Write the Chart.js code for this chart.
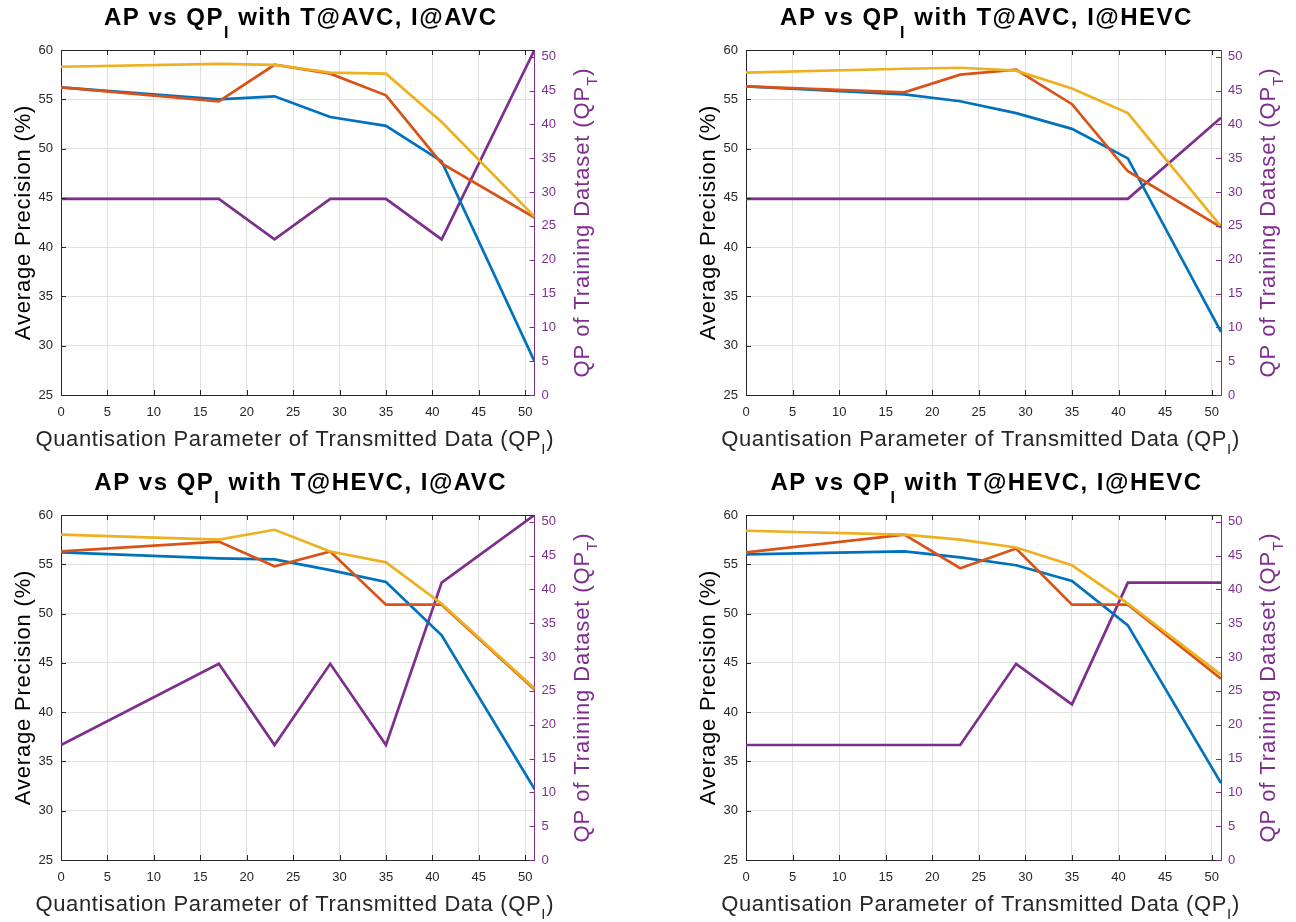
<!DOCTYPE html>
<html>
<head>
<meta charset="utf-8">
<script src="https://cdn.jsdelivr.net/npm/chart.js@4"></script>
<style>
  html, body { margin: 0; padding: 0; background: #fff; }
  body { width: 1296px; height: 922px; position: relative; overflow: hidden; }
  .cell { position: absolute; width: 648px; height: 461px; }
  canvas { display: block; }
</style>
</head>
<body>
<div class="cell" style="left:0;top:0"><canvas id="c0" width="648" height="461"></canvas></div>
<div class="cell" style="left:648px;top:0"><canvas id="c1" width="648" height="461"></canvas></div>
<div class="cell" style="left:0;top:461px"><canvas id="c2" width="648" height="461"></canvas></div>
<div class="cell" style="left:648px;top:461px"><canvas id="c3" width="648" height="461"></canvas></div>
<script>
// QP of transmitted data (x)
const qpI = [0, 17, 23, 29, 35, 41, 51];
const panelTitles = ['T@AVC, I@AVC', 'T@AVC, I@HEVC', 'T@HEVC, I@AVC', 'T@HEVC, I@HEVC'];

// tick labels
const xTicks = [0, 5, 10, 15, 20, 25, 30, 35, 40, 45, 50];
const qpTTicks = [0, 5, 10, 15, 20, 25, 30, 35, 40, 45, 50];

// average precision (%), one row per panel
const apBlue = [
    [56.2, 55.0, 55.3, 53.2, 52.3, 48.7, 28.4],
    [56.3, 55.5, 54.8, 53.6, 52.0, 49.0, 31.4],
    [56.2, 55.6, 55.5, 54.4, 53.2, 47.8, 32.2],
    [56.0, 56.3, 55.7, 54.9, 53.3, 48.8, 32.8]
];
const apOrange = [
    [56.2, 54.8, 58.5, 57.6, 55.4, 48.5, 43.0],
    [56.3, 55.7, 57.5, 58.0, 54.5, 47.7, 42.0],
    [56.3, 57.3, 54.8, 56.3, 50.9, 50.9, 42.3],
    [56.2, 58.0, 54.6, 56.6, 50.9, 50.9, 43.4]
];
const apYellow = [
    [58.3, 58.6, 58.5, 57.7, 57.6, 52.7, 43.1],
    [57.7, 58.1, 58.2, 57.9, 56.1, 53.6, 42.1],
    [58.0, 57.5, 58.5, 56.3, 55.2, 51.0, 42.4],
    [58.4, 58.0, 57.5, 56.7, 54.9, 51.0, 43.8]
];
// QP of training dataset (right axis)
const qpT = [
    [29, 29, 23, 29, 29, 23, 51],
    [29, 29, 29, 29, 29, 29, 41],
    [17, 29, 17, 29, 17, 41, 51],
    [17, 17, 17, 29, 23, 41, 41]
];

const BLUE = '#0072BD', ORANGE = '#D95319', YELLOW = '#EDB120', PURPLE = '#7E2F8E';
const FONT = '"Liberation Sans", Arial, sans-serif';
const GRID = '#e0e0e0';

// wanted chart area inside each 648x461 canvas
const areas = [
    {left: 61, right: 534.5, top: 50, bottom: 395},
    {left: 98, right: 573, top: 50, bottom: 395},
    {left: 61, right: 534.5, top: 54, bottom: 399},
    {left: 98, right: 573, top: 54, bottom: 399}
];
const W = 648, H = 461, YW = 40, XH = 30;

function pts(vals) {
    return qpI.map((x, i) => ({x: x, y: vals[i]}));
}

// text with subscript pieces, centred on x
function richText(ctx, parts, x, y, size, subSize, subDrop, weight, spacing) {
    ctx.letterSpacing = spacing + 'px';
    let w = 0;
    parts.forEach(p => {
        ctx.font = weight + ' ' + (p.sub ? subSize : size) + 'px ' + FONT;
        p.w = ctx.measureText(p.t).width;
        w += p.w;
    });
    let cx = x - w / 2;
    ctx.textAlign = 'left';
    ctx.textBaseline = 'alphabetic';
    parts.forEach(p => {
        ctx.font = weight + ' ' + (p.sub ? subSize : size) + 'px ' + FONT;
        ctx.fillText(p.t, cx, y + (p.sub ? subDrop : 0));
        cx += p.w;
    });
    ctx.letterSpacing = '0px';
}

const decor = {
    id: 'decor',
    afterDraw(chart, args, opts) {
        const ctx = chart.ctx, ca = chart.chartArea;
        const sx = chart.scales.x, sy = chart.scales.y, sr = chart.scales.yR;
        ctx.save();
        // top edge of box
        ctx.strokeStyle = '#262626';
        ctx.lineWidth = 1;
        ctx.beginPath();
        ctx.moveTo(ca.left, ca.top + 0.5);
        ctx.lineTo(ca.right, ca.top + 0.5);
        ctx.stroke();
        // inner tick marks
        ctx.beginPath();
        sx.ticks.forEach(t => {
            const px = Math.round(sx.getPixelForValue(t.value)) + 0.5;
            ctx.moveTo(px, ca.bottom); ctx.lineTo(px, ca.bottom - 5);
            ctx.moveTo(px, ca.top); ctx.lineTo(px, ca.top + 5);
        });
        sy.ticks.forEach(t => {
            const py = Math.round(sy.getPixelForValue(t.value)) + 0.5;
            ctx.moveTo(ca.left, py); ctx.lineTo(ca.left + 5, py);
        });
        ctx.stroke();
        ctx.strokeStyle = PURPLE;
        ctx.beginPath();
        sr.ticks.forEach(t => {
            const py = Math.round(sr.getPixelForValue(t.value)) + 0.5;
            ctx.moveTo(ca.right, py); ctx.lineTo(ca.right - 5, py);
        });
        ctx.stroke();

        const mid = (ca.left + ca.right) / 2, vmid = (ca.top + ca.bottom) / 2;
        // title
        ctx.fillStyle = '#000';
        richText(ctx, [{t: 'AP vs QP'}, {t: 'I', sub: true}, {t: ' with ' + opts.title}],
            mid + 3, ca.top - 25, 24, 16, 13, 'bold', 1.5);
        // x title
        ctx.fillStyle = '#262626';
        richText(ctx, [{t: 'Quantisation Parameter of Transmitted Data (QP'}, {t: 'I', sub: true}, {t: ')'}],
            mid - 3, ca.bottom + 51, 22, 15, 8, 'normal', 0.65);
        // left y title
        ctx.save();
        ctx.translate(ca.left - 31, vmid);
        ctx.rotate(-Math.PI / 2);
        ctx.fillStyle = '#000';
        richText(ctx, [{t: 'Average Precision (%)'}], 0, 0, 22, 15, 8, 'normal', 0.8);
        ctx.restore();
        // right y title
        ctx.save();
        ctx.translate(ca.right + 54, vmid);
        ctx.rotate(-Math.PI / 2);
        ctx.fillStyle = PURPLE;
        richText(ctx, [{t: 'QP of Training Dataset (QP'}, {t: 'T', sub: true}, {t: ')'}],
            0, 0, 22, 15, 8, 'normal', 0.9);
        ctx.restore();
        ctx.restore();
    }
};

function line(data, color, axis, order) {
    return {
        data: data, yAxisID: axis, borderColor: color, backgroundColor: color,
        borderWidth: 2.7, pointRadius: 0, tension: 0, fill: false, order: order
    };
}

panelTitles.forEach((title, i) => {
    const a = areas[i];
    new Chart(document.getElementById('c' + i), {
        type: 'line',
        data: {
            datasets: [
                line(pts(qpT[i]), PURPLE, 'yR', 4),
                line(pts(apBlue[i]), BLUE, 'y', 3),
                line(pts(apOrange[i]), ORANGE, 'y', 2),
                line(pts(apYellow[i]), YELLOW, 'y', 1)
            ]
        },
        options: {
            responsive: false,
            animation: false,
            devicePixelRatio: 1,
            layout: {
                padding: {
                    left: a.left - YW,
                    right: W - a.right - YW,
                    top: a.top,
                    bottom: H - a.bottom - XH
                }
            },
            plugins: {
                legend: {display: false},
                tooltip: {enabled: false},
                decor: {title: title}
            },
            scales: {
                x: {
                    type: 'linear', min: 0, max: 51,
                    afterBuildTicks: s => { s.ticks = xTicks.map(v => ({value: v})); },
                    afterFit: s => { s.height = XH; },
                    ticks: {padding: 10, color: '#262626', font: {family: FONT, size: 13}, maxRotation: 0, autoSkip: false},
                    grid: {color: GRID, drawTicks: false},
                    border: {color: '#262626'}
                },
                y: {
                    position: 'left', min: 25, max: 60,
                    afterFit: s => { s.width = YW; },
                    ticks: {stepSize: 5, padding: 8, color: '#262626', font: {family: FONT, size: 13}},
                    grid: {color: GRID, drawTicks: false},
                    border: {color: '#262626'}
                },
                yR: {
                    position: 'right', min: 0, max: 51,
                    afterBuildTicks: s => { s.ticks = qpTTicks.map(v => ({value: v})); },
                    afterFit: s => { s.width = YW; },
                    ticks: {padding: 7, color: PURPLE, font: {family: FONT, size: 13}, autoSkip: false},
                    grid: {drawOnChartArea: false, drawTicks: false},
                    border: {color: PURPLE}
                }
            }
        },
        plugins: [decor]
    });
});
</script>
</body>
</html>
